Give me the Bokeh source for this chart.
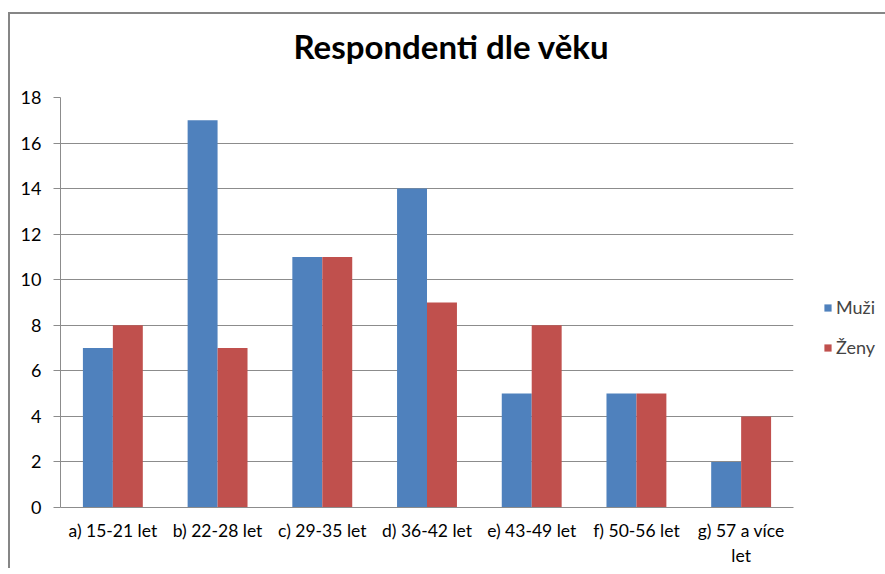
from bokeh.plotting import figure
from bokeh.models import FactorRange, ColumnDataSource, Legend, LegendItem, Title, Range1d, SingleIntervalTicker
from bokeh.transform import dodge
from bokeh.embed import file_html
from bokeh.resources import INLINE

categories = ["a) 15-21 let", "b) 22-28 let", "c) 29-35 let", "d) 36-42 let",
              "e) 43-49 let", "f) 50-56 let", "g) 57 a více\nlet"]
muzi = [7, 17, 11, 14, 5, 5, 2]
zeny = [8, 7, 11, 9, 8, 5, 4]
series_names = ["Muži", "Ženy"]
title_text = "Respondenti dle věku"

FONT = "Lato"
BLUE = "#4F81BD"
RED = "#C0504D"
GRID = "#8C8C8C"

src = ColumnDataSource(dict(cat=categories, muzi=muzi, zeny=zeny))

p = figure(x_range=FactorRange(factors=categories), y_range=Range1d(0, 18),
           frame_width=733, frame_height=410, output_backend="svg", toolbar_location=None,
           min_border_left=50, min_border_right=84, min_border_top=83, min_border_bottom=50,
           styles={"border-left": "2px solid #868686", "border-top": "2px solid #868686",
                   "margin-top": "12px", "margin-left": "8px"})
p.title = None
p.outline_line_color = None

r1 = p.vbar(x=dodge("cat", -0.143, range=p.x_range), top="muzi", width=0.286, source=src,
            fill_color=BLUE, line_color=None)
r2 = p.vbar(x=dodge("cat", 0.143, range=p.x_range), top="zeny", width=0.286, source=src,
            fill_color=RED, line_color=None)

# spacer panel between frame and title
p.add_layout(Title(text=" ", text_font_size="1px", standoff=29), "above")
p.add_layout(Title(text=title_text, align="left", vertical_align="bottom", text_font=FONT,
                   text_font_size="33px", text_font_style="bold", text_color="#000000",
                   standoff=0, offset=233), "above")

p.yaxis.ticker = SingleIntervalTicker(interval=2)
p.ygrid.grid_line_color = GRID
p.ygrid.grid_line_width = 1
p.xgrid.grid_line_color = None

for ax in (p.xaxis, p.yaxis):
    ax.axis_line_color = GRID
    ax.major_label_text_font = FONT
    ax.major_label_text_color = "#000000"
    ax.minor_tick_line_color = None
p.xaxis.major_label_text_font_size = "17.5px"
p.yaxis.major_label_text_font_size = "18px"
p.yaxis.major_tick_line_color = GRID
p.yaxis.major_tick_out = 7
p.yaxis.major_tick_in = 0
p.yaxis.major_label_standoff = 12
p.xaxis.major_tick_line_color = None
p.xaxis.major_label_standoff = 6

legend = Legend(items=[LegendItem(label=series_names[0], renderers=[r1]),
                       LegendItem(label=series_names[1], renderers=[r2])],
                location=(30, 149), glyph_width=9, glyph_height=9, label_height=20,
                label_text_font=FONT, label_text_font_size="18px", label_standoff=4, spacing=18,
                border_line_color=None, background_fill_alpha=0, padding=0, margin=0)
p.add_layout(legend, "right")

open("out.html", "w").write(file_html(p, INLINE))
